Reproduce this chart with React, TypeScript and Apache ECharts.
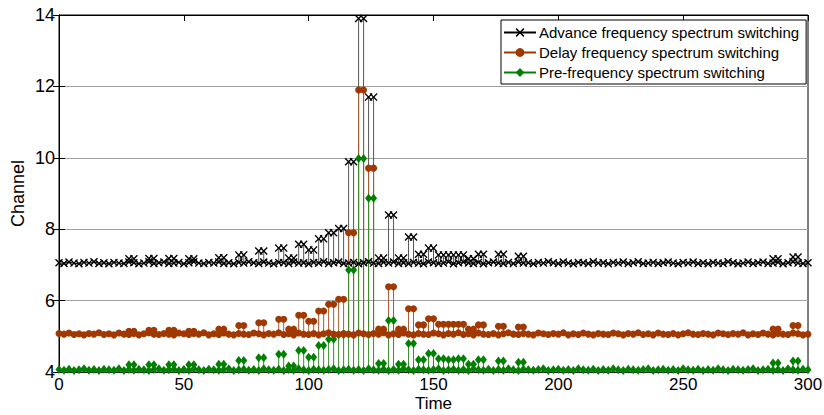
import React, { useEffect, useRef } from "react";
import * as echarts from "echarts";

const timeSamples = [0,2,4,6,8,10,12,14,16,18,20,22,24,26,28,30,32,34,36,38,40,42,44,46,48,50,52,54,56,58,60,62,64,66,68,70,72,74,76,78,80,82,84,86,88,90,92,94,96,98,100,102,104,106,108,110,112,114,116,118,120,122,124,126,128,130,132,134,136,138,140,142,144,146,148,150,152,154,156,158,160,162,164,166,168,170,172,174,176,178,180,182,184,186,188,190,192,194,196,198,200,202,204,206,208,210,212,214,216,218,220,222,224,226,228,230,232,234,236,238,240,242,244,246,248,250,252,254,256,258,260,262,264,266,268,270,272,274,276,278,280,282,284,286,288,290,292,294,296,298,300];

const advanceBase = [
7.06,7.04,7.08,7.05,7.03,7.07,7.05,7.09,7.04,7.06,
7.03,7.07,7.05,7.04,7.08,7.06,7.03,7.05,7.09,7.04,
7.06,7.08,7.04,7.05,7.07,7.03,7.06,7.09,7.05,7.04,
7.07,7.05,7.08,7.04,7.06,7.03,7.07,7.05,7.09,7.06,
7.04,7.08,7.05,7.03,7.07,7.06,7.04,7.08,7.05,7.06,
7.03,7.07,7.05,7.09,7.04,7.06,7.08,7.04,7.05,7.07,
7.03,7.06,7.09,7.05,7.04,7.07,7.05,7.08,7.04,7.06,
7.04,7.07,7.05,7.03,7.08,7.06,7.04,7.05,7.09,7.03,
7.06,7.08,7.05,7.04,7.07,7.03,7.06,7.08,7.05,7.04,
7.07,7.04,7.08,7.05,7.06,7.03,7.07,7.05,7.09,7.06,
7.04,7.08,7.05,7.03,7.07,7.06,7.04,7.09,7.05,7.06,
7.03,7.07,7.05,7.08,7.04,7.06,7.09,7.04,7.05,7.07,
7.04,7.06,7.08,7.05,7.03,7.07,7.05,7.08,7.04,7.06,
7.03,7.07,7.05,7.04,7.09,7.06,7.03,7.05,7.08,7.04,
7.06,7.08,7.04,7.05,7.07,7.03,7.06,7.09,7.05,7.04,
7.06];

const delayBase = [
5.08,5.06,5.09,5.05,5.07,5.04,5.08,5.06,5.1,5.05,
5.07,5.04,5.09,5.06,5.05,5.08,5.04,5.07,5.1,5.06,
5.05,5.08,5.06,5.04,5.09,5.07,5.05,5.08,5.06,5.1,
5.04,5.07,5.05,5.09,5.06,5.04,5.08,5.06,5.05,5.09,
5.07,5.04,5.08,5.06,5.1,5.05,5.07,5.04,5.09,5.06,
5.05,5.08,5.04,5.07,5.1,5.06,5.05,5.08,5.06,5.04,
5.09,5.07,5.05,5.08,5.06,5.1,5.04,5.07,5.05,5.09,
5.06,5.04,5.08,5.06,5.05,5.09,5.07,5.04,5.08,5.06,
5.1,5.05,5.07,5.04,5.09,5.06,5.05,5.08,5.04,5.07,
5.1,5.06,5.05,5.08,5.06,5.04,5.09,5.07,5.05,5.08,
5.06,5.1,5.04,5.07,5.05,5.09,5.06,5.04,5.08,5.06,
5.05,5.09,5.07,5.04,5.08,5.06,5.1,5.05,5.07,5.04,
5.09,5.06,5.05,5.08,5.04,5.07,5.1,5.06,5.05,5.08,
5.06,5.04,5.09,5.07,5.05,5.08,5.06,5.1,5.04,5.07,
5.05,5.09,5.06,5.04,5.08,5.06,5.05,5.09,5.07,5.04,
5.06];

const preBase = [
4.07,4.05,4.08,4.04,4.06,4.09,4.05,4.07,4.04,4.08,
4.06,4.05,4.09,4.04,4.07,4.05,4.08,4.06,4.04,4.07,
4.09,4.05,4.06,4.08,4.04,4.07,4.05,4.09,4.06,4.04,
4.08,4.06,4.05,4.07,4.09,4.04,4.06,4.08,4.05,4.07,
4.04,4.09,4.06,4.05,4.08,4.04,4.07,4.05,4.09,4.06,
4.04,4.08,4.06,4.05,4.07,4.09,4.04,4.06,4.08,4.05,
4.07,4.04,4.09,4.06,4.05,4.08,4.04,4.07,4.05,4.09,
4.06,4.04,4.08,4.06,4.05,4.07,4.09,4.04,4.06,4.08,
4.05,4.07,4.04,4.09,4.06,4.05,4.08,4.04,4.07,4.05,
4.09,4.06,4.04,4.08,4.06,4.05,4.07,4.09,4.04,4.06,
4.08,4.05,4.07,4.04,4.09,4.06,4.05,4.08,4.04,4.07,
4.05,4.09,4.06,4.04,4.08,4.06,4.05,4.07,4.09,4.04,
4.06,4.08,4.05,4.07,4.04,4.09,4.06,4.05,4.08,4.04,
4.07,4.05,4.09,4.06,4.04,4.08,4.06,4.05,4.07,4.09,
4.04,4.06,4.08,4.05,4.07,4.04,4.09,4.06,4.05,4.08,
4.06];

// Times at which the switching pulses occur (shared by the three curves)
const pulseTimes = [28,30,36,38,44,46,52,54,64,66,72,74,80,82,88,90,92,94,96,98,100,102,104,106,108,110,112,114,116,118,120,122,124,126,128,130,132,134,136,138,140,142,144,146,148,150,152,154,156,158,160,162,164,166,168,170,176,178,184,186,286,288,294,296];

const advancePeaks = [7.17,7.17,7.18,7.18,7.18,7.18,7.17,7.17,7.2,7.2,7.28,7.28,7.39,7.39,7.47,7.47,7.19,7.19,7.58,7.58,7.42,7.42,7.73,7.73,7.9,7.9,8.02,8.02,9.89,9.89,13.9,13.9,11.7,11.7,7.19,7.19,8.4,8.4,7.19,7.19,7.78,7.78,7.3,7.3,7.47,7.47,7.28,7.28,7.28,7.28,7.28,7.28,7.17,7.17,7.3,7.3,7.3,7.3,7.24,7.24,7.17,7.17,7.22,7.22];

const delayPeaks = [5.14,5.14,5.17,5.17,5.17,5.17,5.14,5.14,5.2,5.2,5.3,5.3,5.38,5.38,5.48,5.48,5.2,5.2,5.59,5.59,5.42,5.42,5.71,5.71,5.9,5.9,6.04,6.04,7.9,7.9,11.9,11.9,9.71,9.71,5.2,5.2,6.39,6.39,5.2,5.2,5.77,5.77,5.32,5.32,5.49,5.49,5.34,5.34,5.34,5.34,5.34,5.34,5.2,5.2,5.32,5.32,5.28,5.28,5.26,5.26,5.2,5.2,5.3,5.3];

const prePeaks = [4.2,4.2,4.2,4.2,4.2,4.2,4.2,4.2,4.22,4.22,4.32,4.32,4.4,4.4,4.5,4.5,4.17,4.17,4.6,4.6,4.41,4.41,4.74,4.74,4.92,4.92,5.04,5.04,6.86,6.86,9.98,9.98,8.87,8.87,4.24,4.24,5.44,5.44,4.22,4.22,4.8,4.8,4.34,4.34,4.52,4.52,4.37,4.37,4.34,4.34,4.37,4.37,4.22,4.22,4.34,4.34,4.31,4.31,4.27,4.27,4.25,4.25,4.31,4.31];

const seriesNames = [
  "Advance frequency spectrum switching",
  "Delay frequency spectrum switching",
  "Pre-frequency spectrum switching",
];

const xTicks = { min: 0, max: 300, interval: 50 };
const yTicks = { min: 4, max: 14, interval: 2 };

const FONT = "'Liberation Sans', Arial, Helvetica, sans-serif";
const X_SYMBOL = "path://M0,1.2L1.2,0L5,3.8L8.8,0L10,1.2L6.2,5L10,8.8L8.8,10L5,6.2L1.2,10L0,8.8L3.8,5Z";

function buildGroup(
  name: string,
  base: number[],
  peaks: number[],
  color: string,
  stemColor: string,
  symbol: string,
  symbolSize: number | number[]
) {
  const baseData = timeSamples.map((t, i) => [t, base[i]]);
  const stemData = pulseTimes.map((t, j) => [t, base[timeSamples.indexOf(t)], peaks[j]]);
  const peakData = pulseTimes.map((t, j) => [t, peaks[j]]);
  return [
    {
      type: "custom",
      name: name + " stems",
      data: stemData,
      encode: { x: 0, y: [1, 2] },
      renderItem: (_p: any, api: any) => {
        const a = api.coord([api.value(0), api.value(1)]);
        const b = api.coord([api.value(0), api.value(2)]);
        return {
          type: "line",
          shape: { x1: a[0], y1: a[1], x2: b[0], y2: b[1] },
          style: { stroke: stemColor, lineWidth: 1 },
        };
      },
      silent: true,
    },
    {
      type: "line",
      name,
      data: baseData,
      symbol,
      symbolSize,
      showSymbol: true,
      showAllSymbol: true,
      itemStyle: { color },
      lineStyle: { color, width: 1 },
      silent: true,
    },
    {
      type: "scatter",
      name: name + " peaks",
      data: peakData,
      symbol,
      symbolSize,
      itemStyle: { color, opacity: 1 },
      silent: true,
    },
  ];
}

export default function App() {
  const ref = useRef<HTMLDivElement>(null);
  useEffect(() => {
    if (!ref.current) return;
    document.body.style.margin = "0";
    const chart = echarts.init(ref.current, undefined, { renderer: "svg" });
    const axisCommon = {
      axisLine: { show: true, lineStyle: { color: "#000", width: 1 } },
      axisTick: { show: true, inside: true, length: 6, lineStyle: { color: "#000" } },
    };
    chart.setOption({
      animation: false,
      backgroundColor: "#fff",
      textStyle: { fontFamily: FONT },
      grid: {
        left: 59,
        right: 16,
        top: 15,
        bottom: 43,
        outerBoundsMode: "none",
        containLabel: false,
        show: true,
        borderColor: "#000",
        borderWidth: 1,
        backgroundColor: "transparent",
      },
      legend: {
        data: seriesNames,
        orient: "vertical",
        left: 501,
        top: 20,
        itemWidth: 32,
        itemHeight: 11,
        itemGap: 5,
        padding: [5, 7, 4, 2],
        borderColor: "#000",
        borderWidth: 1,
        backgroundColor: "#fff",
        textStyle: { fontSize: 15, color: "#000", fontFamily: FONT, padding: [0, 0, 0, -2] },
      },
      xAxis: [
        {
          type: "value",
          ...xTicks,
          position: "bottom",
          name: "Time",
          nameLocation: "middle",
          nameGap: 23,
          nameMoveOverlap: false,
          nameTextStyle: { fontSize: 17, lineHeight: 17, color: "#000", fontFamily: FONT },
          axisLabel: { fontSize: 17, lineHeight: 17, color: "#000", margin: 4, fontFamily: FONT },
          splitLine: { show: false },
          ...axisCommon,
        },
        {
          type: "value",
          ...xTicks,
          position: "top",
          axisLabel: { show: false },
          splitLine: { show: false },
          ...axisCommon,
        },
      ],
      yAxis: [
        {
          type: "value",
          ...yTicks,
          position: "left",
          name: "Channel",
          nameLocation: "middle",
          nameGap: 32,
          nameMoveOverlap: false,
          nameTextStyle: { fontSize: 18, color: "#000", fontFamily: FONT },
          axisLabel: { fontSize: 18, color: "#000", margin: 4, fontFamily: FONT },
          splitLine: { show: true, lineStyle: { color: "#a0a0a0", width: 1 } },
          ...axisCommon,
        },
        {
          type: "value",
          ...yTicks,
          position: "right",
          axisLabel: { show: false },
          splitLine: { show: false },
          ...axisCommon,
        },
      ],
      series: [
        ...buildGroup(seriesNames[0], advanceBase, advancePeaks, "#000000", "#555555", X_SYMBOL, 8),
        ...buildGroup(seriesNames[1], delayBase, delayPeaks, "#a03800", "#a85a30", "circle", 7),
        ...buildGroup(seriesNames[2], preBase, prePeaks, "#008000", "#3a8a2a", "diamond", [7, 9]),
      ],
    });
    return () => chart.dispose();
  }, []);
  return <div ref={ref} style={{ width: 824, height: 415 }} />;
}
